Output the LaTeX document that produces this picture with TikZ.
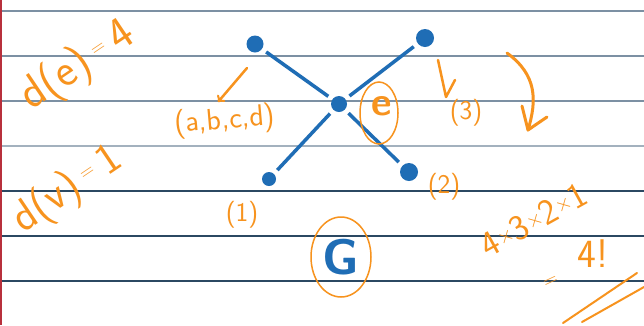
\documentclass[tikz,border=0pt]{standalone}
\usepackage{tikz}
\usetikzlibrary{shapes.geometric}

\definecolor{ink}{HTML}{F7931E}
\definecolor{pen}{HTML}{1F6DB5}
\definecolor{rulegray}{HTML}{7C90A3}
\definecolor{ruledark}{HTML}{2B4862}
\definecolor{margin}{HTML}{B8303C}

\newcommand{\smalleq}{\raisebox{10pt}{\fontsize{20}{20}\selectfont=}}
\newcommand{\smalltimes}{\raisebox{5pt}{\fontsize{20}{20}\selectfont$\times$}}

\tikzset{
	vtx/.style={circle, fill=pen, inner sep=0pt},
	edge/.style={pen, line width=3.5pt, shorten <=5pt, shorten >=5pt},
	note/.style={text=ink, font=\sffamily\fontsize{27}{27}\selectfont},
	stroke/.style={ink, line width=2.5pt, line cap=round, line join=round},
	ring/.style={ellipse, draw=ink, line width=1.5pt, inner sep=0pt}
}

\begin{document}
\begin{tikzpicture}[x=1pt, y=-1pt]
	\useasboundingbox (0,0) rectangle (644,325);
	\fill[white] (0,0) rectangle (644,325);
	
	% ruled paper
	\foreach \y in {11,56,101}
		\draw[rulegray, line width=2pt] (0,\y) -- (644,\y);
	\draw[rulegray!70, line width=2pt] (0,146) -- (644,146);
	\foreach \y in {191,236,281}
		\draw[ruledark, line width=1.8pt] (0,\y) -- (644,\y);
	\draw[margin, line width=2pt] (1,0) -- (1,325);
	
	% the graph
	\node[vtx, minimum size=16pt] (c) at (339,104) {};
	\node[vtx, minimum size=17pt] (tl) at (255,44) {};
	\node[vtx, minimum size=18pt] (tr) at (425,38) {};
	\node[vtx, minimum size=14pt] (bl) at (269,179) {};
	\node[vtx, minimum size=18pt] (br) at (409,172) {};
	
	\draw[edge] (tl) -- (c);
	\draw[edge] (tr) -- (c);
	\draw[edge] (bl) -- (c);
	\draw[edge] (br) -- (c);
	
	% degrees
	\node[note, rotate=34, font=\sffamily\fontsize{46}{46}\selectfont] (de) at (78,66) {d(e)\,\smalleq\,4};
	\node[note, rotate=34, font=\sffamily\fontsize{44}{44}\selectfont] (dv) at (68,190) {d(v)\,\smalleq\,1};
	
	% choices
	\coordinate (a1) at (247,68);
	\coordinate (a2) at (218,102);
	\draw[stroke, ->] (a1) -- (a2);
	\node[note, rotate=5, font=\sffamily\fontsize{30}{30}\selectfont] (abcd) at (225,121) {(a,b,c,d)};
	\node[ring, minimum width=38pt, minimum height=62pt] (ering) at (379,113) {};
	\node[text=ink, font=\sffamily\bfseries\fontsize{40}{40}\selectfont] (e) at (382,106) {e};
	\node[note] (n3) at (466,113) {(3)};
	\node[note] (n2) at (444,187) {(2)};
	\node[note] (n1) at (242,215) {(1)};
	\draw[stroke] (438,60) -- (446,97) -- (455,80);
	
	% big arrow
	\draw[stroke, line width=3pt] (507,53) .. controls (537,75) and (537,100) .. (528,130);
	\draw[stroke, line width=3pt] (522,106) -- (528,130) -- (547,117);
	
	\node[ring, minimum width=60pt, minimum height=80pt, text=pen,
		font=\sffamily\bfseries\fontsize{50}{50}\selectfont] (g) at (341,257) {G};
	
	% count
	\node[note, rotate=29, font=\sffamily\fontsize{36}{36}\selectfont] (prod) at (534,220) {4\smalltimes3\smalltimes2\smalltimes1};
	\node[note, rotate=25, font=\sffamily\fontsize{20}{20}\selectfont] (eq) at (551,282) {=};
	\node[note, font=\sffamily\fontsize{40}{40}\selectfont] (fact) at (593,254) {4!};
	\draw[stroke, line width=2pt] (563,323) -- (637,273);
	\draw[stroke, line width=2pt] (582,322) -- (644,287);
\end{tikzpicture}
\end{document}
